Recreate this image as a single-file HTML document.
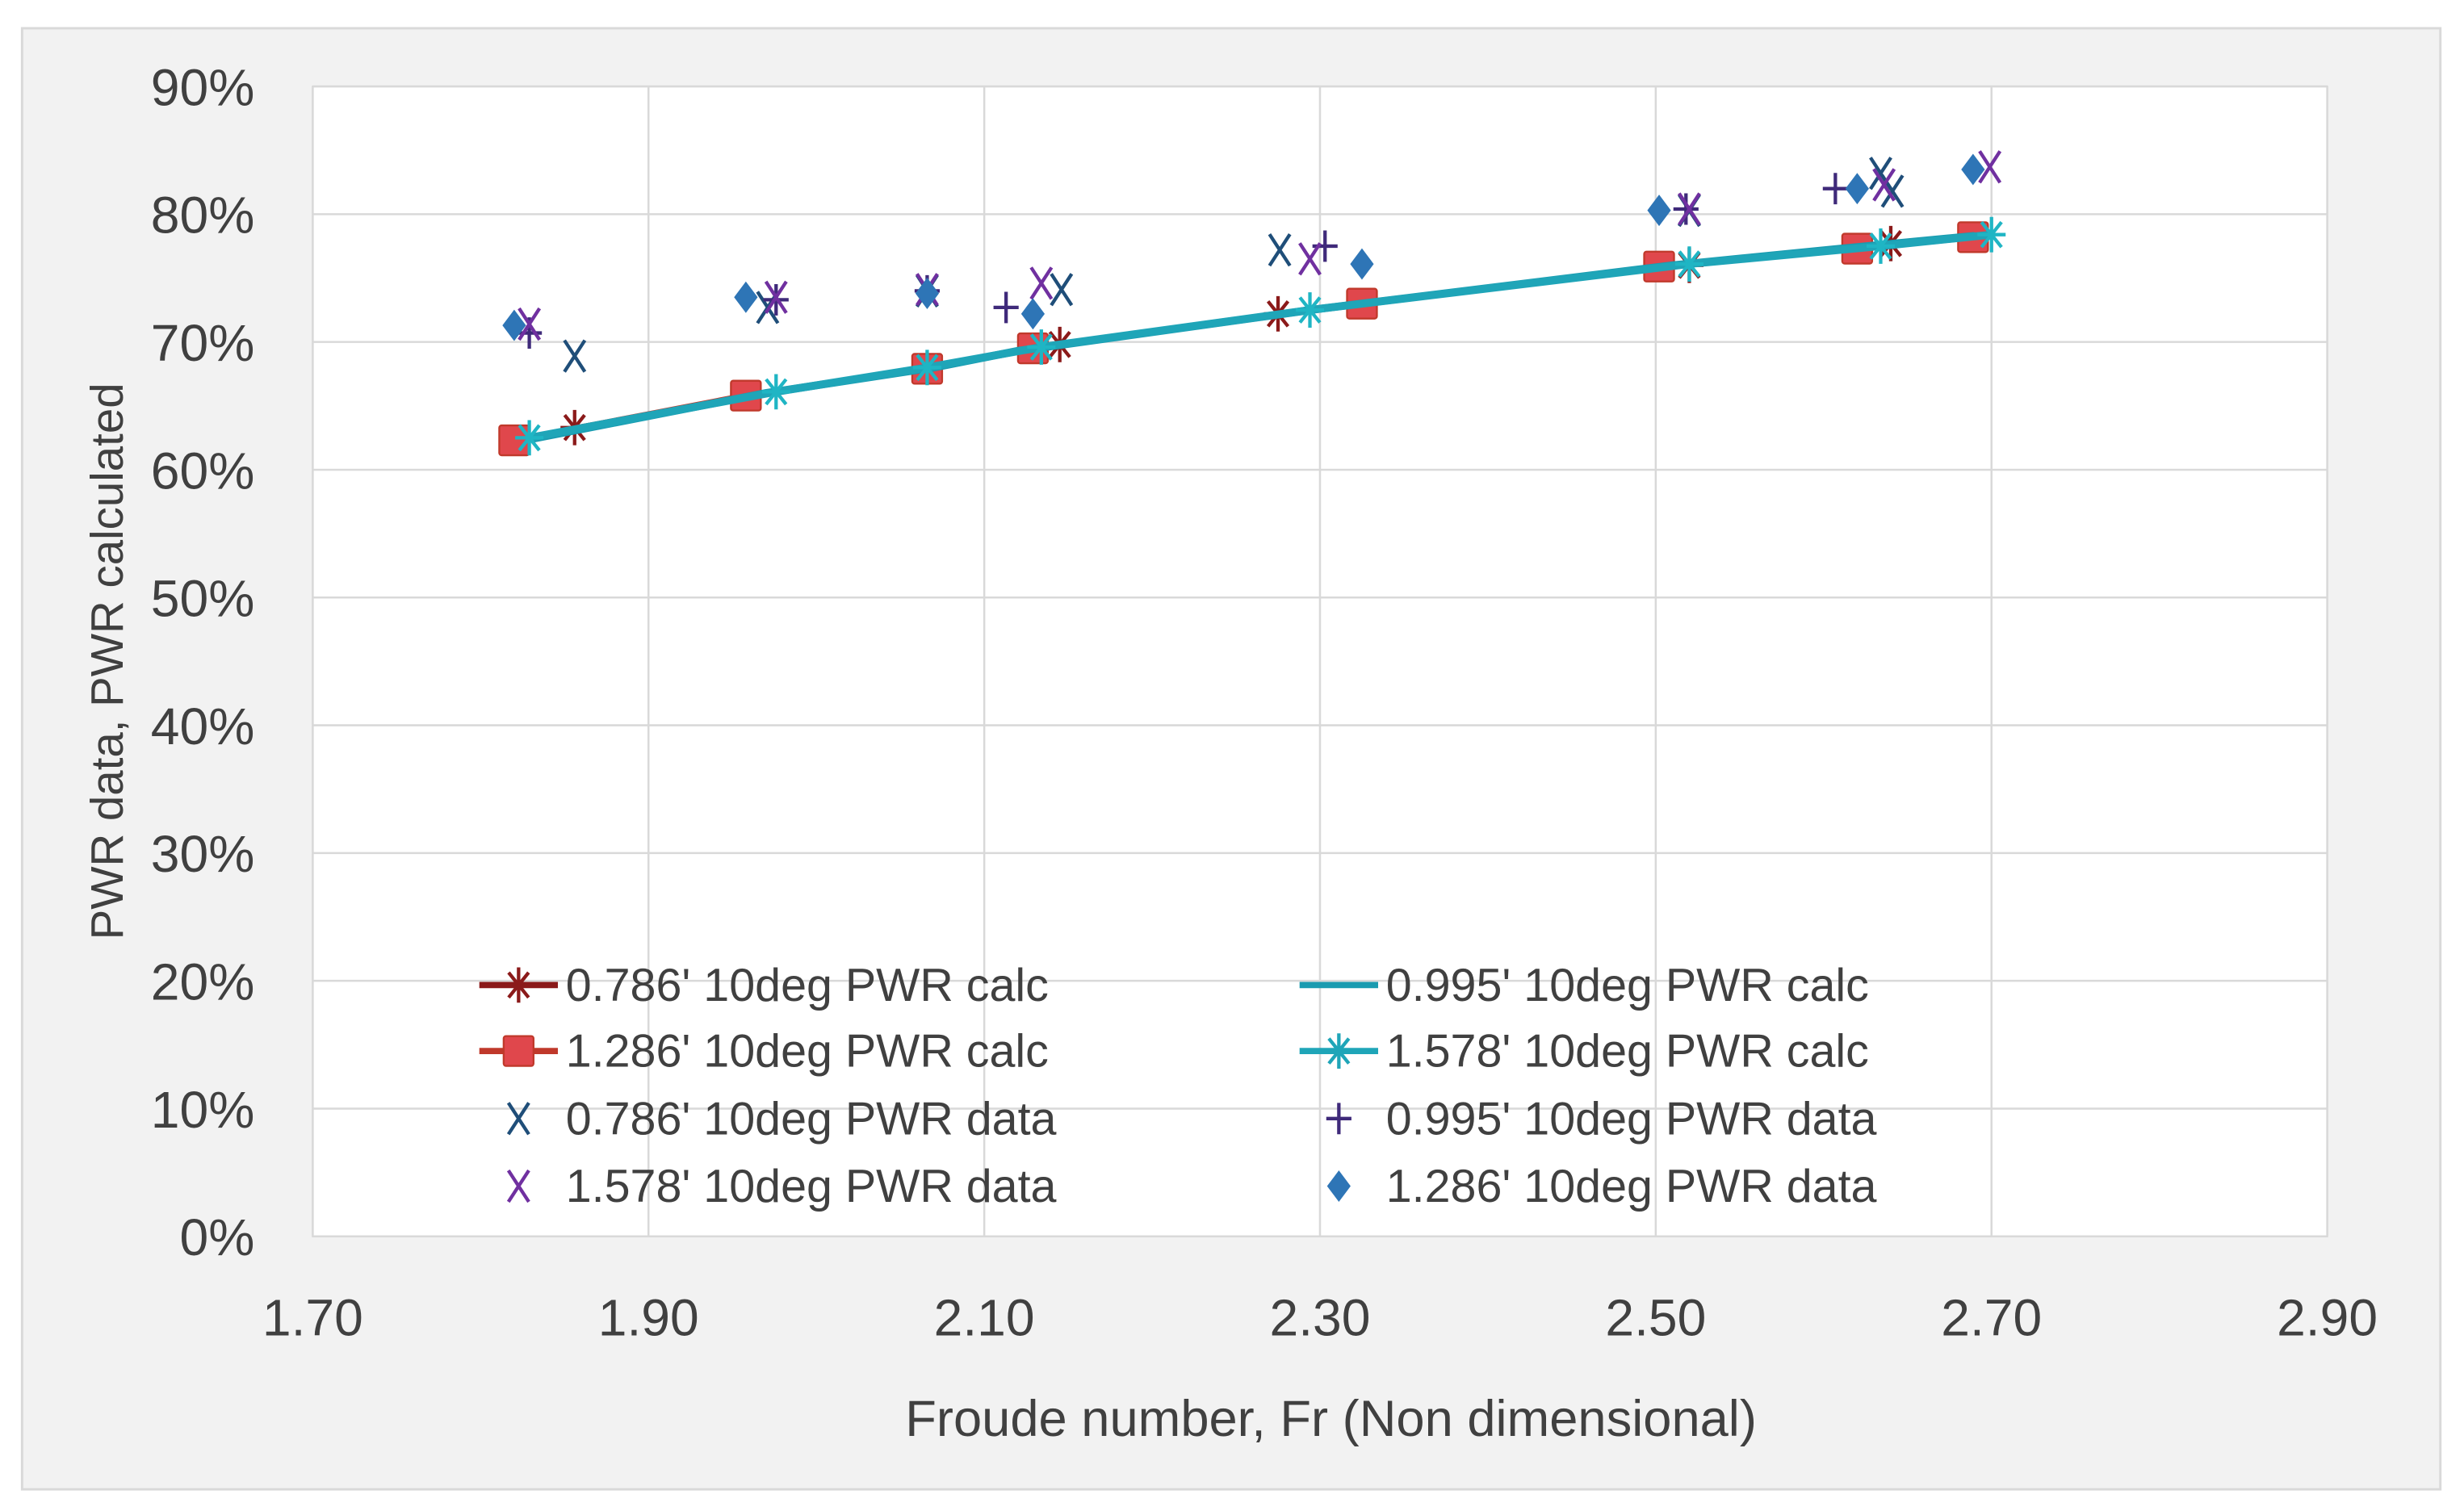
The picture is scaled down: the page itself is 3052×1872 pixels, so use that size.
<!DOCTYPE html>
<html><head><meta charset="utf-8"><style>
html,body{margin:0;padding:0;background:#fff;}
svg{display:block;font-family:"Liberation Sans",sans-serif;}
</style></head><body>
<svg id="chart" width="3052" height="1872" viewBox="0 0 1568 961.8">
<rect x="14" y="18" width="1539" height="930" fill="#f2f2f2" stroke="#d9d9d9" stroke-width="1.5"/>
<rect x="199" y="55" width="1282" height="732" fill="#fff" stroke="#d0d0d0"/>
<g id="grid"></g><g id="series"></g><g id="legend"></g>
<text x="847" y="914" font-size="32.5" text-anchor="middle" fill="#404040">Froude number, Fr (Non dimensional)</text>
<text transform="translate(78,421) rotate(-90)" font-size="29" text-anchor="middle" fill="#404040">PWR data, PWR calculated</text>
</svg>
<script>
const xTicks=[1.70,1.90,2.10,2.30,2.50,2.70,2.90];
const yTicks=[0,10,20,30,40,50,60,70,80,90];
const x786c=[1.856,2.145,2.275,2.52,2.64];
const y786c=[63.3,69.8,72.2,76.0,77.7];
const x995c=[1.83,1.97,2.07,2.12,2.30,2.51,2.61,2.69];
const y995c=[62.4,66.0,68.0,69.3,72.6,76.0,77.3,78.3];
const x1286c=[1.82,1.958,2.066,2.129,2.325,2.502,2.62,2.689];
const y1286c=[62.3,65.8,67.9,69.5,73.0,75.9,77.3,78.2];
const x1578c=[1.829,1.976,2.066,2.134,2.294,2.52,2.634,2.70];
const y1578c=[62.5,66.1,68.0,69.6,72.5,76.1,77.5,78.4];
const x786d=[1.856,1.971,2.066,2.146,2.276,2.52,2.634,2.641];
const y786d=[68.9,72.7,74.0,74.1,77.2,80.3,83.2,81.8];
const x995d=[1.829,1.976,2.066,2.113,2.303,2.518,2.607];
const y995d=[70.7,73.3,74.0,72.7,77.5,80.4,82.0];
const x1578d=[1.829,1.976,2.066,2.134,2.294,2.52,2.636,2.699];
const y1578d=[71.4,73.5,74.1,74.6,76.5,80.4,82.3,83.7];
const x1286d=[1.82,1.958,2.066,2.129,2.325,2.502,2.62,2.689];
const y1286d=[71.3,73.5,73.8,72.2,76.1,80.3,82.0,83.5];

const NS="http://www.w3.org/2000/svg";
const X=v=>199+(v-1.70)/1.2*1282;
const Y=v=>787-v/90*732;
function mk(tag,attrs,parent){const e=document.createElementNS(NS,tag);for(const k in attrs)e.setAttribute(k,attrs[k]);parent.appendChild(e);return e;}
const grid=document.getElementById('grid'),ser=document.getElementById('series'),leg=document.getElementById('legend');
xTicks.forEach(t=>{
 const l=mk('line',{x1:X(t),x2:X(t),y1:55,y2:787,stroke:'#d9d9d9','stroke-width':1.3},grid);
 
 
 const tx=mk('text',{x:X(t),y:850,'font-size':33,'text-anchor':'middle',fill:'#404040'},grid);
 tx.textContent=t.toFixed(2);
 
 
});
yTicks.forEach(t=>{
 const l=mk('line',{x1:199,x2:1481,y1:Y(t),y2:Y(t),stroke:'#d9d9d9','stroke-width':1.3},grid);
 
 
 const tx=mk('text',{x:162,y:Y(t)+12,'font-size':33,'text-anchor':'end',fill:'#404040'},grid);
 tx.textContent=t+'%';
 
 
});
function marker(type,cx,cy,color,parent){
 const g=mk('g',{},parent);
 if(type==='star'){for(let a=0;a<180;a+=45){const r=a*Math.PI/180;mk('line',{x1:cx-9*Math.cos(r),y1:cy-9*Math.sin(r)*1.25,x2:cx+9*Math.cos(r),y2:cy+9*Math.sin(r)*1.25,stroke:color,'stroke-width':2.2},g);}}
 else if(type==='square'){mk('rect',{x:cx-9.5,y:cy-9.5,width:19,height:19,fill:'#e0474c',stroke:'#c0392b','stroke-width':1.2,rx:1.5},g);}
 else if(type==='x'){mk('path',{d:`M${cx-6.5} ${cy-10}L${cx+6.5} ${cy+10}M${cx+6.5} ${cy-10}L${cx-6.5} ${cy+10}`,stroke:color,'stroke-width':2.2,fill:'none'},g);}
 else if(type==='plus'){mk('path',{d:`M${cx-8} ${cy}L${cx+8} ${cy}M${cx} ${cy-10}L${cx} ${cy+10}`,stroke:color,'stroke-width':2.2,fill:'none'},g);}
 else if(type==='diamond'){mk('path',{d:`M${cx} ${cy-10}L${cx+7.5} ${cy}L${cx} ${cy+10}L${cx-7.5} ${cy}Z`,fill:color},g);}
 return g;
}
function line(xs,ys,color,w,name){
 const p=mk('polyline',{points:xs.map((v,i)=>X(v)+','+Y(ys[i])).join(' '),fill:'none',stroke:color,'stroke-width':w},ser);
 
 
}
function pts(xs,ys,type,color,name){
 xs.forEach((v,i)=>{const g=marker(type,X(v),Y(ys[i]),color,ser);
 
 });
}
line(x786c,y786c,'#8b1a1a',3,'line-0786-calc');
line(x1286c,y1286c,'#c0392b',4,'line-1286-calc');
pts(x786c,y786c,'star','#8b1a1a','point-0786-calc');
pts(x1286c,y1286c,'square','#e0474c','point-1286-calc');
line(x995c,y995c,'#1a9bb0',5,'line-0995-calc');
line(x1578c,y1578c,'#1fa5b8',5,'line-1578-calc');
pts(x1578c,y1578c,'star','#1fb5c4','point-1578-calc');
pts(x786d,y786d,'x','#1f4e79','point-0786-data');
pts(x995d,y995d,'plus','#3f2a7a','point-0995-data');
pts(x1578d,y1578d,'x','#7030a0','point-1578-data');
pts(x1286d,y1286d,'diamond','#2e75b6','point-1286-data');
const legItems=[
 [330,627,'star-line','#8b1a1a',"0.786' 10deg PWR calc"],
 [852,627,'line','#1a9bb0',"0.995' 10deg PWR calc"],
 [330,669,'square-line','#c0392b',"1.286' 10deg PWR calc"],
 [852,669,'star-line','#1fa5b8',"1.578' 10deg PWR calc"],
 [330,712,'x','#1f4e79',"0.786' 10deg PWR data"],
 [852,712,'plus','#3f2a7a',"0.995' 10deg PWR data"],
 [330,755,'x','#7030a0',"1.578' 10deg PWR data"],
 [852,755,'diamond','#2e75b6',"1.286' 10deg PWR data"]];
legItems.forEach(it=>{
 const [cx,cy,t,c,label]=it;
 const g=mk('g',{},leg);
 
 
 if(t.endsWith('line')||t==='line'){mk('line',{x1:cx-25,x2:cx+25,y1:cy,y2:cy,stroke:c,'stroke-width':4},g);}
 if(t==='star-line')marker('star',cx,cy,c,g);
 else if(t==='square-line')marker('square',cx,cy,c,g);
 else if(t!=='line')marker(t,cx,cy,c,g);
 const tx=mk('text',{x:cx+30,y:cy+10,'font-size':29.5,fill:'#404040'},g);
 tx.textContent=label;
});
</script>
</body></html>
